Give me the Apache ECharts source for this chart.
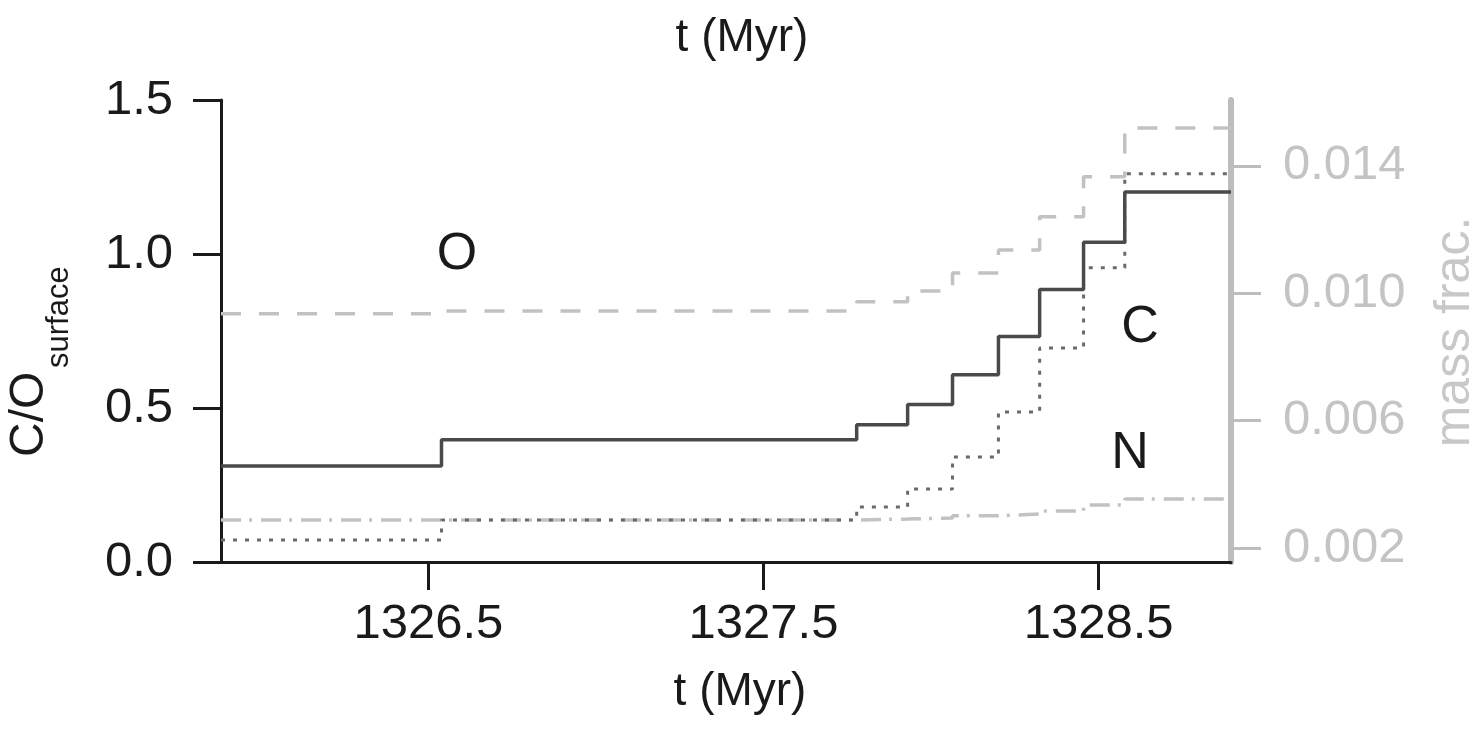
<!DOCTYPE html>
<html><head><meta charset="utf-8">
<script src="https://cdn.jsdelivr.net/npm/echarts@6/dist/echarts.min.js"></script>
<style>html,body{margin:0;padding:0;background:#fff}#c{width:1480px;height:730px}</style>
</head><body><div id="c"></div>
<script>
// time (Myr) at the start of each interpulse interval, and the end of the plotted range
const stepTimes = [1325.881, 1326.539, 1327.778, 1327.930, 1328.064, 1328.201, 1328.324, 1328.455, 1328.578];
const timeRange = [1325.881, 1328.895];
// surface C/O ratio (left axis)
const coRatio = [0.312, 0.397, 0.446, 0.511, 0.608, 0.732, 0.885, 1.038, 1.201];
// surface mass fractions (right axis)
const massC = [0.00225, 0.00288, 0.00329, 0.00385, 0.00486, 0.00627, 0.00828, 0.01080, 0.01375];
const massN = [0.00288, 0.00288, 0.00291, 0.00294, 0.00301, 0.00307, 0.00316, 0.00335, 0.00354];
const massO = [0.00936, 0.00944, 0.00973, 0.01007, 0.01064, 0.01136, 0.01240, 0.01366, 0.01519];
// tick labels
const xTicks = [1326.5, 1327.5, 1328.5];
const leftTicks = [0, 0.5, 1.0, 1.5];
const rightTicks = [0.002, 0.006, 0.010, 0.014];
const rightRange = [0.00156, 0.01607];

const toPairs = vals => {
  const out = vals.map((v, i) => [stepTimes[i], v]);
  out.push([timeRange[1], vals[vals.length - 1]]);
  return out;
};

const NARROW = "'Liberation Sans Narrow', 'Liberation Sans', Arial, sans-serif";
const SANS = "'Liberation Sans', Arial, sans-serif";
const chart = echarts.init(document.getElementById('c'), null, {renderer: 'canvas'});

chart.setOption({
  animation: false,
  backgroundColor: '#fff',
  grid: {left: 221, right: 249, top: 100, bottom: 168, containLabel: false},
  xAxis: {
    type: 'value', min: timeRange[0], max: timeRange[1],
    axisLine: {show: true, lineStyle: {color: '#1a1a1a', width: 3}},
    axisTick: {show: true, inside: false, length: 28, lineStyle: {color: '#1a1a1a', width: 3}, customValues: xTicks},
    axisLabel: {customValues: xTicks, formatter: v => v.toFixed(1), fontFamily: NARROW, fontSize: 49, color: '#1a1a1a', margin: 38},
    splitLine: {show: false}
  },
  yAxis: [{
    type: 'value', position: 'left', min: 0, max: 1.5, interval: 0.5,
    axisLine: {show: true, onZero: false, lineStyle: {color: '#1a1a1a', width: 3}},
    axisTick: {show: true, length: 28, lineStyle: {color: '#1a1a1a', width: 3}},
    axisLabel: {customValues: leftTicks, formatter: v => v.toFixed(1), fontFamily: NARROW, fontSize: 49, color: '#1a1a1a', margin: 48},
    splitLine: {show: false}
  }, {
    type: 'value', position: 'right', min: rightRange[0], max: rightRange[1],
    axisLine: {show: true, onZero: false, lineStyle: {color: '#bdbdbd', width: 6}},
    axisTick: {show: true, length: 30, lineStyle: {color: '#bdbdbd', width: 3}, customValues: rightTicks},
    axisLabel: {customValues: rightTicks, formatter: v => v.toFixed(3), fontFamily: NARROW, fontSize: 49, color: '#c4c4c4', margin: 52},
    splitLine: {show: false}
  }],
  series: [
    {type: 'line', name: 'O', yAxisIndex: 1, step: 'end', data: toPairs(massO), showSymbol: false,
     lineStyle: {color: '#c2c2c2', width: 3.5, type: [20, 18]}, z: 2},
    {type: 'line', name: 'N', yAxisIndex: 1, step: 'end', data: toPairs(massN), showSymbol: false,
     lineStyle: {color: '#c2c2c2', width: 3.5, type: [20, 8, 3, 9]}, z: 2},
    {type: 'line', name: 'C', yAxisIndex: 1, step: 'end', data: toPairs(massC), showSymbol: false,
     lineStyle: {color: '#6a6a6a', width: 3, type: [4, 8]}, z: 3},
    {type: 'line', name: 'C/O', yAxisIndex: 0, step: 'end', data: toPairs(coRatio), showSymbol: false,
     lineStyle: {color: '#4a4a4a', width: 3.5}, z: 4}
  ],
  graphic: [
    {type: 'text', x: 742, y: 38, style: {text: 't (Myr)', font: '46px ' + SANS, fill: '#1a1a1a', align: 'center', verticalAlign: 'middle'}},
    {type: 'text', x: 740, y: 692, style: {text: 't (Myr)', font: '46px ' + SANS, fill: '#1a1a1a', align: 'center', verticalAlign: 'middle'}},
    {type: 'group', x: 47, y: 457, rotation: Math.PI / 2, children: [
      {type: 'text', x: 0, y: -17, style: {text: 'C/O', font: '48px ' + SANS, fill: '#1a1a1a', align: 'left', verticalAlign: 'middle'}},
      {type: 'text', x: 89, y: 12, style: {text: 'surface', font: '31px ' + SANS, fill: '#1a1a1a', align: 'left', verticalAlign: 'middle'}}
    ]},
    {type: 'text', x: 1455, y: 332, rotation: Math.PI / 2, style: {text: 'mass frac.', font: '50px ' + SANS, fill: '#c8c8c8', align: 'center', verticalAlign: 'middle'}},
    {type: 'text', x: 457, y: 255, style: {text: 'O', font: '52px ' + SANS, fill: '#1a1a1a', align: 'center', verticalAlign: 'middle'}},
    {type: 'text', x: 1140, y: 328, style: {text: 'C', font: '52px ' + SANS, fill: '#1a1a1a', align: 'center', verticalAlign: 'middle'}},
    {type: 'text', x: 1130, y: 454, style: {text: 'N', font: '52px ' + SANS, fill: '#1a1a1a', align: 'center', verticalAlign: 'middle'}}
  ]
});
</script>
</body></html>
